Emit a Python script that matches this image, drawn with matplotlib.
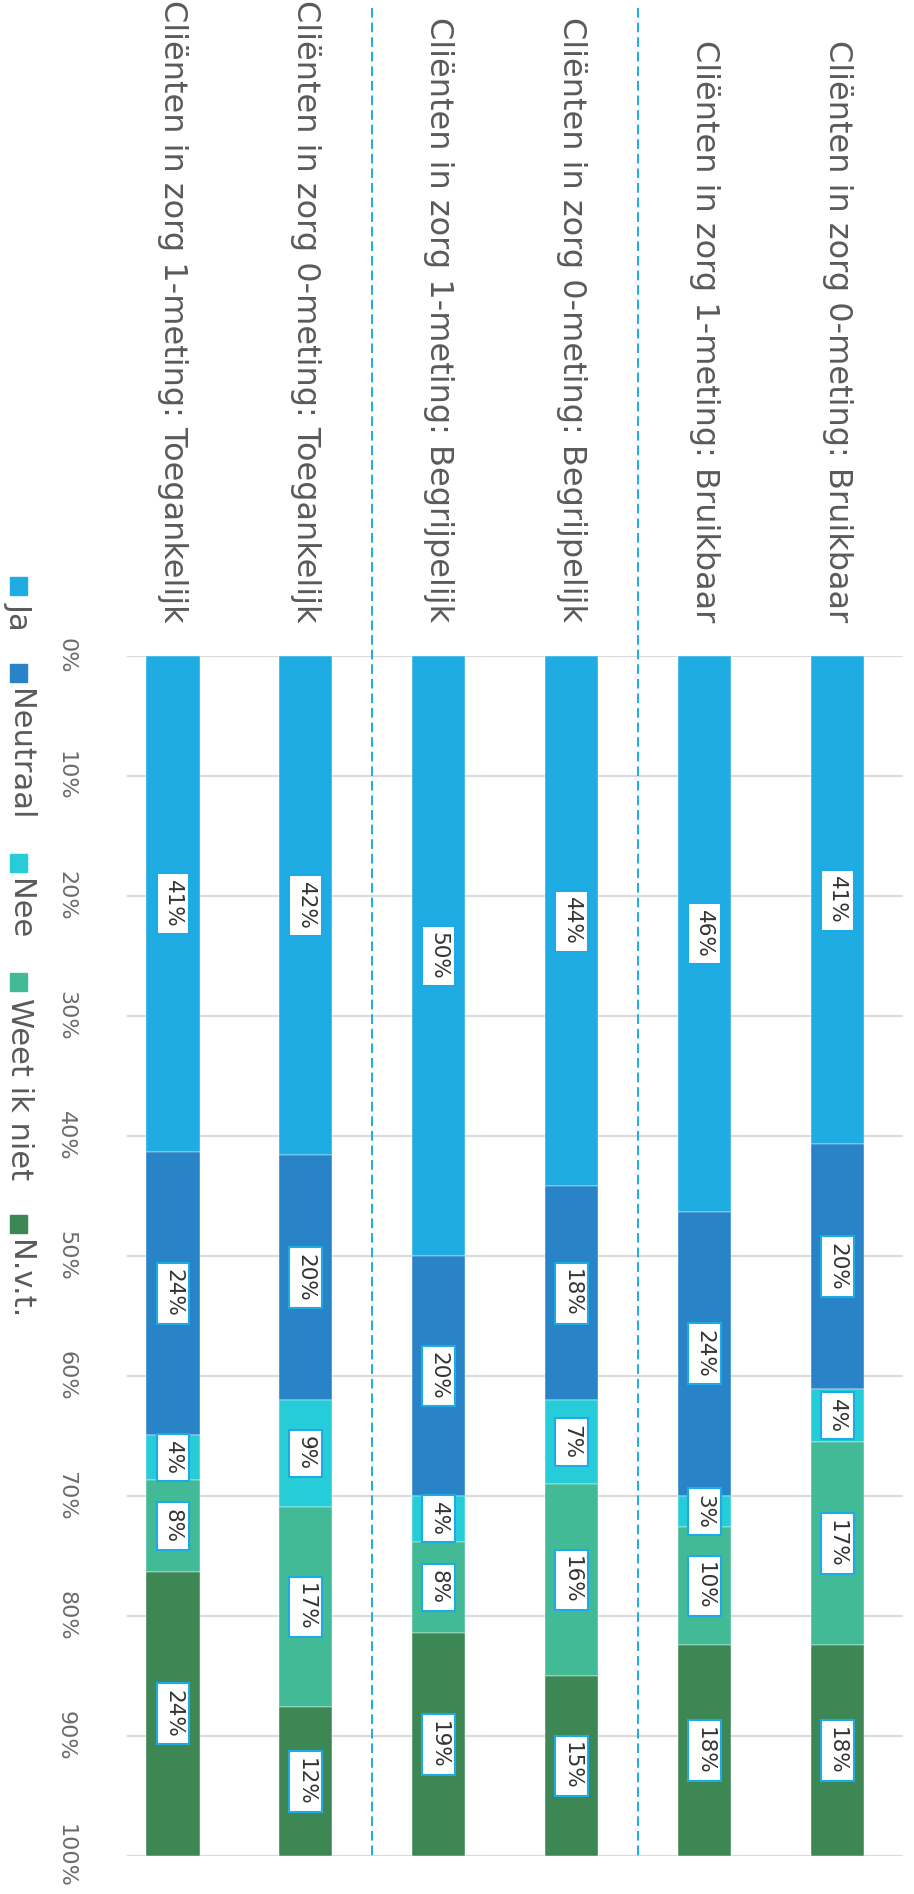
import matplotlib
matplotlib.use('Agg')
import matplotlib.pyplot as plt
from matplotlib.patches import Rectangle
from matplotlib.transforms import Affine2D

# categories in original order (drawn right to left)
categories = [
    'Cliënten in zorg 0-meting: Bruikbaar',
    'Cliënten in zorg 1-meting: Bruikbaar',
    'Cliënten in zorg 0-meting: Begrijpelijk',
    'Cliënten in zorg 1-meting: Begrijpelijk',
    'Cliënten in zorg 0-meting: Toegankelijk',
    'Cliënten in zorg 1-meting: Toegankelijk',
]
series_names = ['Ja', 'Neutraal', 'Nee', 'Weet ik niet', 'N.v.t.']
ja = [40.7, 46.3, 44.2, 50.0, 41.6, 41.3]
neutraal = [20.4, 23.7, 17.8, 20.0, 20.4, 23.6]
nee = [4.4, 2.6, 7.0, 3.8, 8.9, 3.8]
weet_ik_niet = [16.9, 9.8, 16.0, 7.6, 16.7, 7.6]
nvt = [17.6, 17.6, 15.0, 18.6, 12.4, 23.7]
tick_values = [0, 10, 20, 30, 40, 50, 60, 70, 80, 90, 100]

colors = ['#1EACE3', '#2883C7', '#26CDD8', '#42BA96', '#3D8754']
series = [ja, neutraal, nee, weet_ik_niet, nvt]

W, H = 914, 1894
fig = plt.figure(figsize=(W / 100, H / 100), dpi=100)
fig.patch.set_facecolor('white')
pix = Affine2D().scale(1 / W, -1 / H).translate(0, 1) + fig.transFigure

FONT = 'DejaVu Sans'
ax = fig.add_axes([127 / W, 1 - 1856 / H, 776 / W, 1200 / H])
ax.set_xlim(-0.346, 5.496)
ax.set_ylim(100, 0)
ax.set_axis_off()

for v in tick_values:
    ax.axhline(v, color='#DADADA', lw=1.5, zorder=0)
    ax.text(-0.0786, v, f'{v}%', transform=ax.get_yaxis_transform(), rotation=270,
            ha='center', va='center', fontsize=16, color='#6b6b6b', family=FONT)

n = len(categories)
xpos = [n - 1 - i for i in range(n)]
bottoms = [0.0] * n
for vals, col in zip(series, colors):
    ax.bar(xpos, vals, bottom=bottoms, width=0.4, color=col, zorder=2,
           edgecolor='#ffffff', linewidth=0.3)
    for x, b, v in zip(xpos, bottoms, vals):
        ax.text(x, b + v / 2, f'{v:.0f}%', rotation=270, ha='center', va='center',
                fontsize=15.5, color='#333333', family=FONT, zorder=4,
                bbox=dict(boxstyle='square,pad=0.3', fc='white', ec='#1EAAE4', lw=1.5))
    bottoms = [b + v for b, v in zip(bottoms, vals)]

# category labels
for x, cat in zip(xpos, categories):
    ax.text(x, -2.8, cat, rotation=270, ha='center', va='bottom', fontsize=23,
            color='#5a5a5a', family=FONT, clip_on=False)

# dashed group separators
for sep in [1.5, 3.5]:
    ax.plot([sep, sep], [-54.0, 100], color='#1EAAE4', lw=1.4, dashes=(5, 2.5),
            clip_on=False, zorder=1)

# manual legend, rotated
renderer = fig.canvas.get_renderer()
y = 577
for name, col in zip(series_names, colors):
    fig.patches.append(Rectangle((10, y), 17, 18, transform=pix, color=col))
    t = fig.text(19, y + 25, name, transform=pix, rotation=270, ha='center', va='top',
                 fontsize=22, color='#5a5a5a', family=FONT)
    ext = t.get_window_extent(renderer)
    y = (H - ext.y0) + 34

fig.savefig('out.png', dpi=100, facecolor='white')
